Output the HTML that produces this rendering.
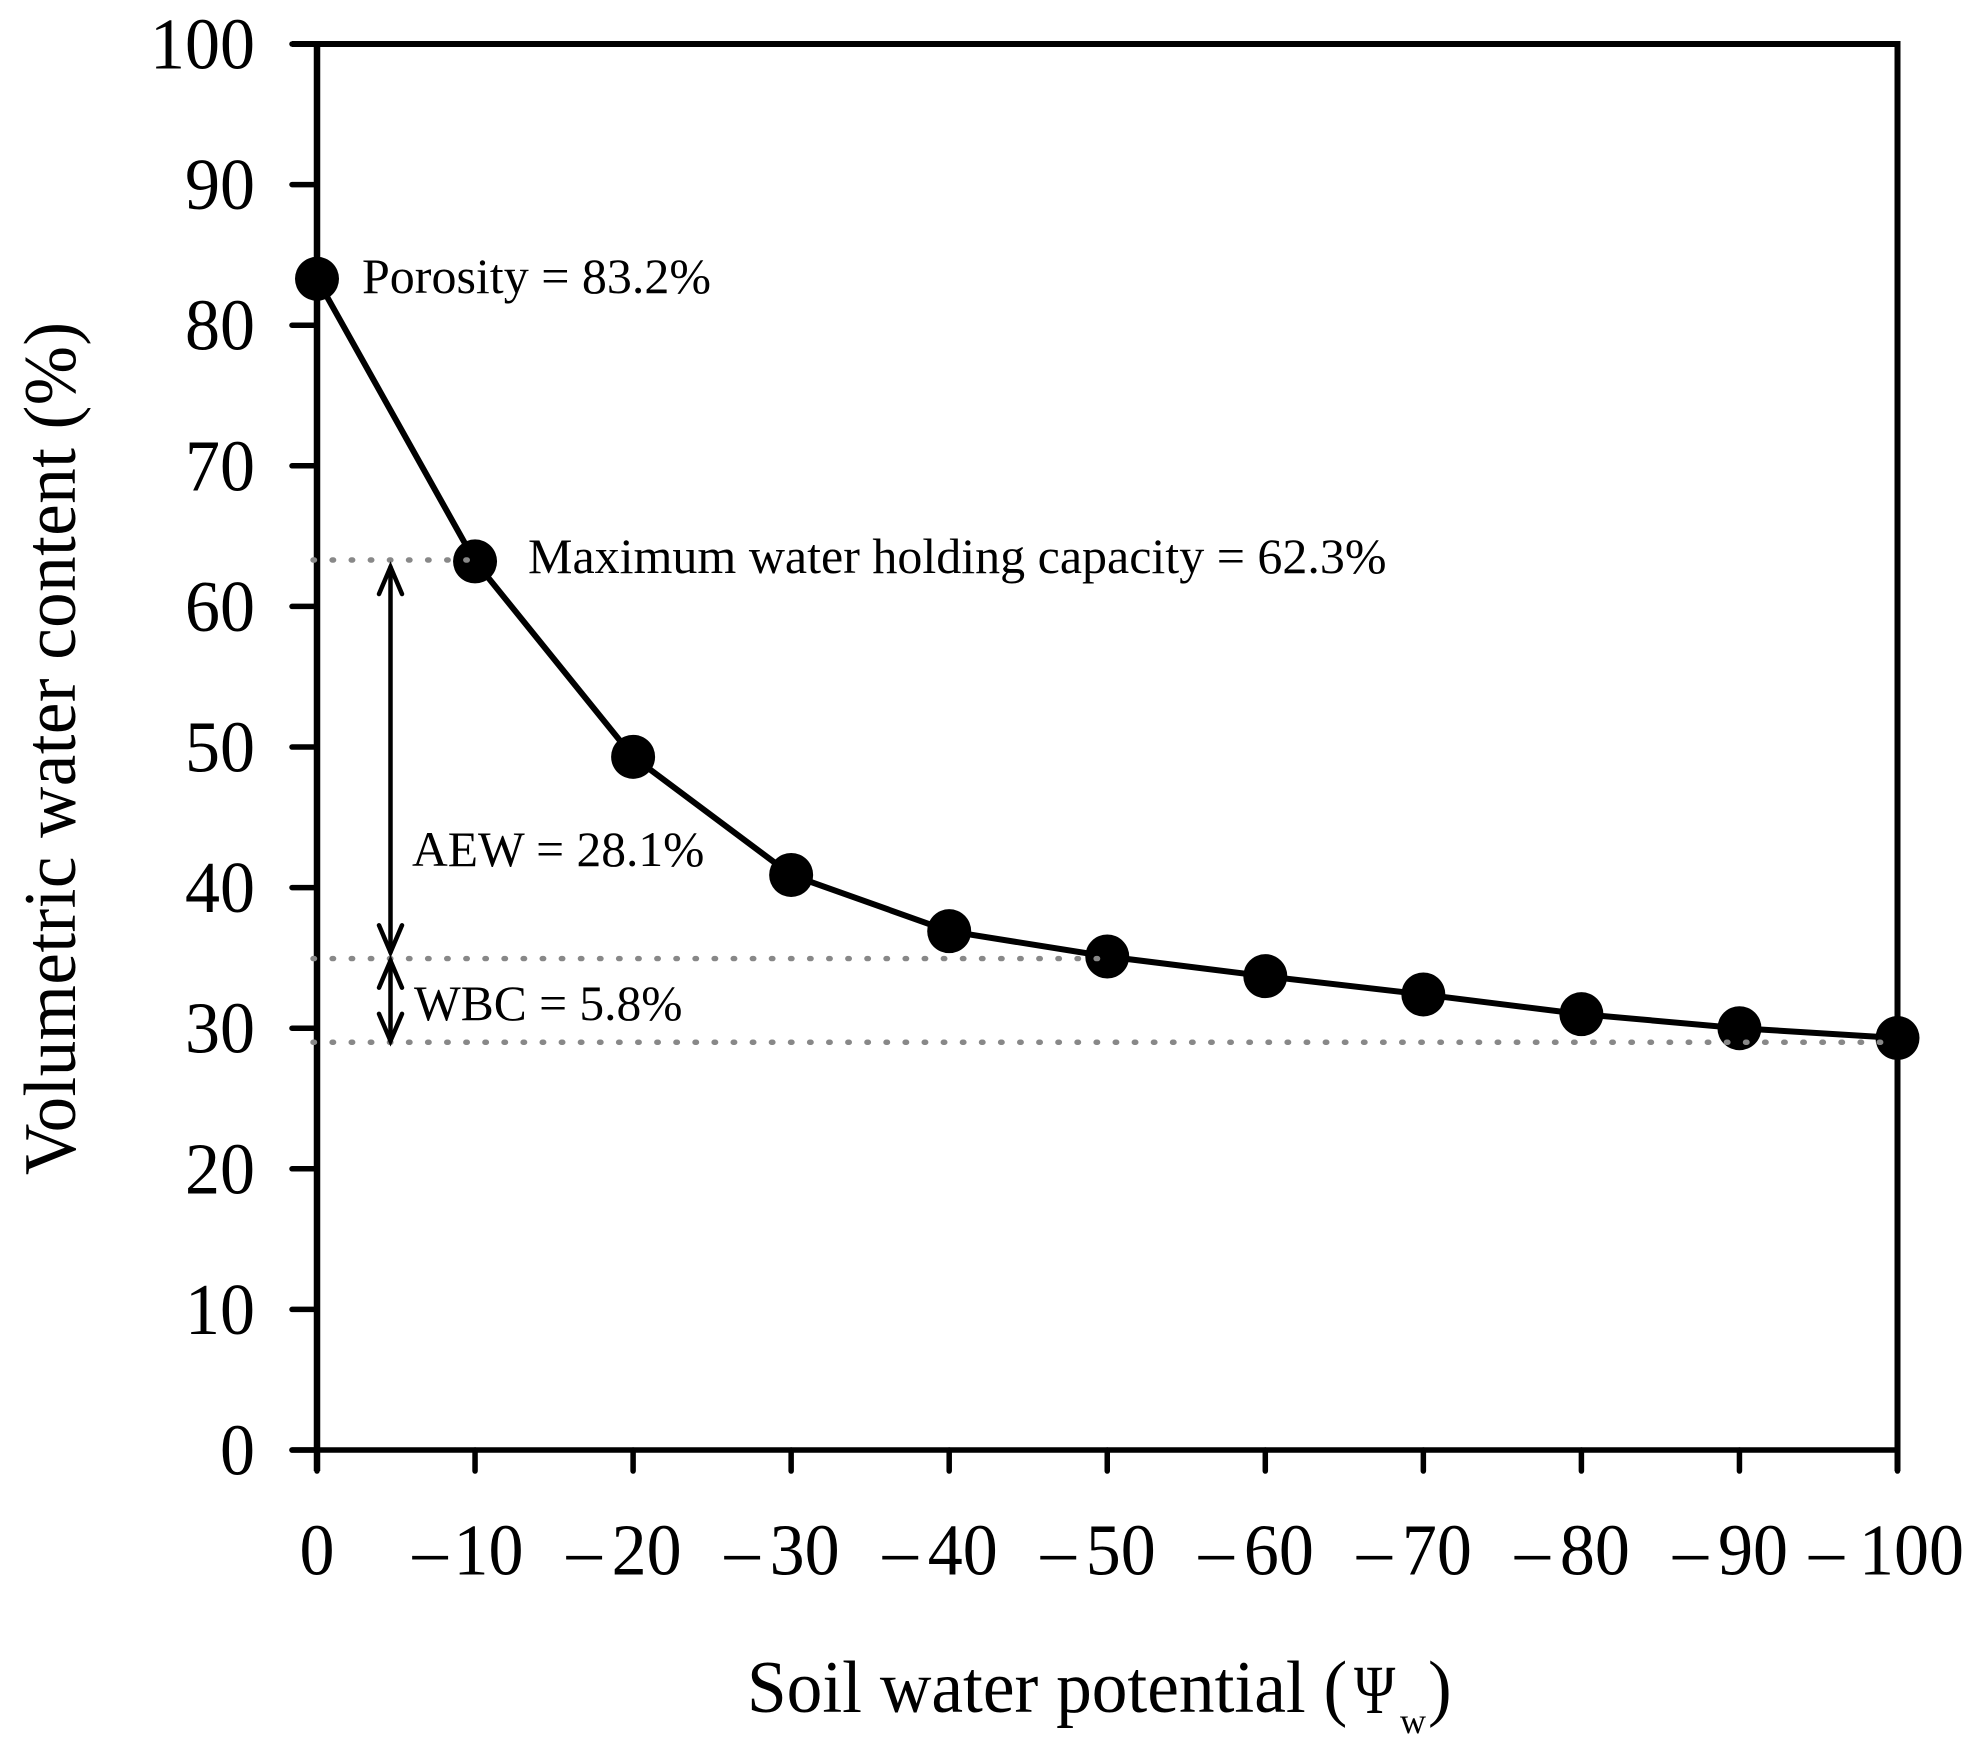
<!DOCTYPE html>
<html>
<head>
<meta charset="utf-8">
<title>Soil water retention curve</title>
<style>
html,body{margin:0;padding:0;background:#fff}
svg{display:block}
text{font-family:"Liberation Serif",serif;fill:#000}
</style>
</head>
<body>
<svg id="chart" xmlns="http://www.w3.org/2000/svg" width="1987" height="1752" viewBox="0 0 1987 1752">
<rect width="1987" height="1752" fill="#fff"/>
<g id="axes"></g>
<g id="series"></g>
<g id="refs"></g>
<g id="arrows"></g>
<text transform="translate(75,1175) rotate(-90) scale(1,1.05)" font-size="71" textLength="853" lengthAdjust="spacing">Volumetric water content (%)</text>
<g>
<text transform="translate(747,1712) scale(1.005,1.05)" font-size="71">Soil water potential (</text>
<text transform="translate(1354,1713) scale(1,1.22)" font-size="56">Ψ</text>
<text x="1400" y="1733" font-size="36">w</text>
<text transform="translate(1428,1712) scale(1,1.05)" font-size="71">)</text>
</g>
<text x="362" y="293" font-size="50">Porosity = 83.2%</text>
<text x="528" y="573" font-size="50">Maximum water holding capacity = 62.3%</text>
<text x="412" y="866" font-size="49.5">AEW = 28.1%</text>
<text x="414" y="1020" font-size="49.5">WBC = 5.8%</text>
</svg>
<script>
const potentials = [0, -10, -20, -30, -40, -50, -60, -70, -80, -90, -100];
const waterContent = [83.3, 63.2, 49.3, 40.9, 36.9, 35.1, 33.7, 32.4, 31.0, 30.0, 29.3];
const yTicks = [0, 10, 20, 30, 40, 50, 60, 70, 80, 90, 100];
const xTickLabels = ["0", "10", "20", "30", "40", "50", "60", "70", "80", "90", "100"];
const refLevels = [63.3, 34.95, 29.0];
const refEnds = [-9.8, -50, -99.5];
const aewRange = [62.8, 35.4];
const wbcRange = [34.8, 29.1];

const NS = "http://www.w3.org/2000/svg";
const X0 = 317, X1 = 1897.5, Y0 = 1450, Y1 = 44;
function xs(v) { return X0 + (-v / 100) * (X1 - X0); }
function ys(v) { return Y0 - (v / 100) * (Y0 - Y1); }
function make(tag, attrs, parent) {
  const el = document.createElementNS(NS, tag);
  for (const k in attrs) el.setAttribute(k, attrs[k]);
  parent.appendChild(el);
  return el;
}
const axes = document.getElementById("axes");
const series = document.getElementById("series");
const refs = document.getElementById("refs");
const arrows = document.getElementById("arrows");

// frame
const frameTop = make("path", {d: "M292 " + Y1 + "H" + (X1 + 3), stroke: "#000", "stroke-width": 6, fill: "none"}, axes);


const frameBottom = make("line", {x1: 292, y1: Y0, x2: X1, y2: Y0, stroke: "#000", "stroke-width": 5.5, "stroke-linecap": "round"}, axes);


const frameLeft = make("line", {x1: X0, y1: Y1, x2: X0, y2: 1471, stroke: "#000", "stroke-width": 6.5, "stroke-linecap": "butt"}, axes);


const frameRight = make("line", {x1: X1, y1: Y1, x2: X1, y2: 1471, stroke: "#000", "stroke-width": 6, "stroke-linecap": "butt"}, axes);



// y ticks
yTicks.forEach(function (v) {
  const t = make("line", {x1: 292, y1: ys(v), x2: X0, y2: ys(v), stroke: "#000", "stroke-width": 5.5, "stroke-linecap": "round"}, axes);
  
  
  const l = make("text", {"text-anchor": "end", "font-size": 70, transform: "translate(255," + (ys(v) + 24.5) + ") scale(1,1.05)"}, axes);
  l.textContent = String(v);
  
  
});

// x ticks
potentials.forEach(function (v, i) {
  const x = xs(v);
  const t = make("line", {x1: x, y1: Y0, x2: x, y2: 1471, stroke: "#000", "stroke-width": 5.5, "stroke-linecap": "round"}, axes);
  
  
  let shift = 9, gap = 10;
  if (i === 0) shift = 0;
  if (i === 1) { shift = 7; gap = 6; }
  if (i === 10) { shift = 11; gap = 15; }
  const l = make("text", {"font-size": 70, "text-anchor": "middle", transform: "translate(" + (x - shift) + ",1574.5) scale(1,1.05)"}, axes);
  
  
  if (i === 0) {
    l.textContent = xTickLabels[i];
  } else {
    const dash = make("tspan", {}, l);
    dash.textContent = "\u2013";
    
    
    const num = make("tspan", {dx: gap}, l);
    num.textContent = xTickLabels[i];
    
    
  }
});

// curve and markers
const curvePts = potentials.map(function (p, i) { return xs(p) + "," + ys(waterContent[i]); }).join(" ");
const curve = make("polyline", {points: curvePts, fill: "none", stroke: "#000", "stroke-width": 6, "stroke-linejoin": "round"}, series);


potentials.forEach(function (p, i) {
  const c = make("circle", {cx: xs(p), cy: ys(waterContent[i]), r: 22, fill: "#000"}, series);
  
  
});

// dotted reference lines
refLevels.forEach(function (lv, i) {
  const r = make("line", {x1: xs(0) - 4, y1: ys(lv), x2: xs(refEnds[i]), y2: ys(lv), stroke: "#888", "stroke-width": 5.4, "stroke-linecap": "round", "stroke-dasharray": "1.5 17.6"}, refs);
  
  
});

// double-headed arrows
function drawArrow(range, name) {
  const x = 390.5;
  const top = ys(range[0]), bot = ys(range[1]);
  const g = make("g", {fill: "none", stroke: "#000", "stroke-width": 4.5, "stroke-linecap": "round", "stroke-linejoin": "miter"}, arrows);
  
  
  make("path", {d: "M" + x + " " + top + "V" + bot}, g);
  make("path", {d: "M" + (x - 11.5) + " " + (top + 27) + "L" + x + " " + top + "L" + (x + 11.5) + " " + (top + 27)}, g);
  make("path", {d: "M" + (x - 11.5) + " " + (bot - 27) + "L" + x + " " + bot + "L" + (x + 11.5) + " " + (bot - 27)}, g);
}
drawArrow(aewRange, "aew-arrow");
drawArrow(wbcRange, "wbc-arrow");
</script>
</body>
</html>
